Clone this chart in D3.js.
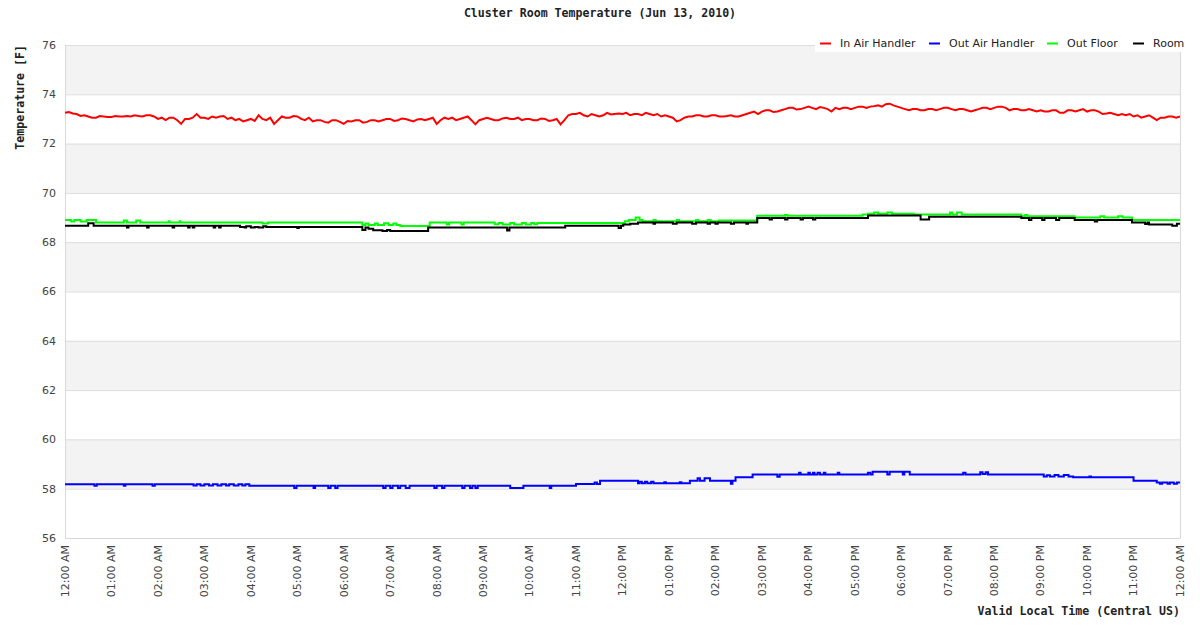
<!DOCTYPE html>
<html>
<head>
<meta charset="utf-8">
<script src="https://cdn.jsdelivr.net/npm/d3@7"></script>
<style>
  body { margin: 0; background: #fff; }
  svg { display: block; }
</style>
</head>
<body>
<svg id="chart"></svg>
<script>
// In Air Handler, one reading every 5 minutes from 12:00 AM to 12:00 AM
const inAirHandler = [
  73.25, 73.28, 73.22, 73.20, 73.12, 73.15, 73.10, 73.05, 73.05, 73.12, 73.10, 73.08,
  73.08, 73.12, 73.10, 73.10, 73.12, 73.10, 73.15, 73.12, 73.10, 73.15, 73.15, 73.10,
  73.00, 73.05, 72.95, 73.05, 73.05, 72.95, 72.80, 73.00, 73.00, 73.05, 73.20, 73.05,
  73.05, 73.00, 73.10, 73.05, 73.10, 73.12, 73.00, 73.05, 72.95, 73.00, 72.90, 72.95,
  73.00, 72.92, 73.15, 73.00, 72.95, 73.05, 72.80, 72.95, 73.10, 73.05, 73.05, 73.12,
  73.10, 73.00, 72.95, 73.05, 72.90, 72.95, 72.95, 72.88, 72.85, 72.95, 72.95, 72.88,
  72.80, 72.92, 72.90, 72.95, 72.95, 72.85, 72.88, 72.95, 72.95, 72.90, 72.95, 73.00,
  73.00, 72.92, 72.95, 73.02, 73.00, 72.95, 72.90, 72.98, 73.00, 72.95, 73.00, 73.05,
  72.80, 72.95, 73.05, 73.00, 73.05, 72.95, 73.00, 73.05, 73.10, 72.95, 72.78, 72.95,
  73.00, 73.05, 73.00, 72.95, 72.95, 73.02, 73.05, 73.00, 73.00, 73.05, 72.95, 73.00,
  73.00, 72.95, 72.95, 73.02, 73.00, 72.92, 72.95, 73.00, 72.78, 72.95, 73.15, 73.20,
  73.20, 73.25, 73.15, 73.10, 73.20, 73.15, 73.10, 73.15, 73.25, 73.18, 73.20, 73.22,
  73.20, 73.25, 73.15, 73.20, 73.20, 73.15, 73.25, 73.20, 73.15, 73.20, 73.10, 73.15,
  73.10, 73.05, 72.90, 72.95, 73.05, 73.10, 73.10, 73.15, 73.15, 73.10, 73.10, 73.15,
  73.15, 73.10, 73.10, 73.12, 73.15, 73.10, 73.10, 73.15, 73.20, 73.25, 73.30, 73.20,
  73.30, 73.35, 73.35, 73.28, 73.30, 73.35, 73.40, 73.45, 73.45, 73.38, 73.40, 73.45,
  73.50, 73.45, 73.40, 73.48, 73.45, 73.40, 73.30, 73.45, 73.40, 73.45, 73.45, 73.40,
  73.45, 73.50, 73.50, 73.45, 73.50, 73.52, 73.55, 73.50, 73.60, 73.62, 73.55, 73.50,
  73.45, 73.40, 73.35, 73.40, 73.40, 73.35, 73.35, 73.40, 73.40, 73.35, 73.40, 73.45,
  73.45, 73.40, 73.35, 73.40, 73.40, 73.35, 73.30, 73.35, 73.40, 73.45, 73.45, 73.40,
  73.45, 73.50, 73.50, 73.45, 73.35, 73.40, 73.40, 73.35, 73.35, 73.40, 73.35, 73.30,
  73.35, 73.30, 73.30, 73.35, 73.35, 73.25, 73.25, 73.35, 73.35, 73.30, 73.35, 73.40,
  73.30, 73.35, 73.35, 73.30, 73.20, 73.22, 73.25, 73.20, 73.15, 73.20, 73.15, 73.20,
  73.10, 73.15, 73.05, 73.10, 73.15, 73.05, 72.95, 73.05, 73.05, 73.10, 73.10, 73.05,
  73.10
];

// step series: [minute of day, value from that minute on]
const outAirHandler = [
  [0,58.18],[38,58.12],[41,58.18],[76,58.12],[78,58.18],[113,58.12],[116,58.18],
  [166,58.13],[170,58.18],[175,58.13],[180,58.18],[186,58.13],[191,58.18],[197,58.13],
  [202,58.18],[208,58.13],[212,58.18],[218,58.13],[224,58.18],[229,58.13],[233,58.18],
  [238,58.12],[296,58.03],[299,58.12],[321,58.03],[323,58.12],[340,58.03],[343,58.12],
  [349,58.03],[352,58.12],[411,58.03],[414,58.12],[420,58.03],[423,58.12],[430,58.03],
  [433,58.12],[440,58.03],[445,58.12],[477,58.03],[480,58.12],[487,58.03],[490,58.12],
  [513,58.03],[516,58.12],[523,58.03],[526,58.12],[530,58.03],[533,58.12],[575,58.03],
  [592,58.12],[626,58.03],[628,58.12],[660,58.19],[684,58.25],[687,58.19],[691,58.32],
  [740,58.22],[742,58.28],[745,58.22],[749,58.28],[752,58.22],[757,58.28],[760,58.22],
  [774,58.26],[776,58.22],[794,58.26],[796,58.22],[807,58.32],[817,58.42],[820,58.32],
  [826,58.42],[833,58.32],[860,58.2],[862,58.32],[866,58.46],[888,58.58],[920,58.48],
  [923,58.58],[948,58.65],[950,58.58],[960,58.65],[962,58.58],[966,58.65],[968,58.58],
  [972,58.65],[975,58.58],[980,58.65],[982,58.58],[998,58.65],[1000,58.58],[1037,58.65],
  [1040,58.58],[1043,58.69],[1062,58.58],[1065,58.69],[1082,58.58],[1084,58.69],
  [1091,58.58],[1160,58.65],[1163,58.58],[1182,58.67],[1185,58.6],[1189,58.67],
  [1192,58.58],[1264,58.5],[1268,58.55],[1272,58.5],[1278,58.56],[1283,58.5],[1290,58.56],
  [1296,58.5],[1302,58.46],[1323,58.5],[1325,58.46],[1380,58.32],[1410,58.25],[1414,58.2],
  [1417,58.25],[1424,58.2],[1427,58.25],[1432,58.2],[1436,58.25],[1440,58.25]
];

const outFloor = [
  [0,68.9],[8,68.84],[12,68.9],[20,68.84],[28,68.9],[40,68.8],[76,68.88],[80,68.8],
  [92,68.88],[97,68.8],[134,68.85],[135,68.8],[148,68.85],[149,68.8],[255,68.76],
  [262,68.8],[384,68.7],[388,68.76],[392,68.7],[400,68.76],[404,68.7],[412,68.77],
  [418,68.7],[424,68.76],[428,68.7],[433,68.66],[471,68.8],[493,68.72],[496,68.8],
  [512,68.72],[515,68.8],[555,68.73],[560,68.78],[565,68.72],[575,68.78],[580,68.72],
  [590,68.78],[595,68.72],[602,68.78],[606,68.73],[610,68.78],[723,68.85],[728,68.9],
  [737,69.0],[742,68.9],[746,68.85],[760,68.9],[763,68.85],[790,68.9],[793,68.85],
  [815,68.9],[818,68.85],[830,68.9],[834,68.85],[845,68.88],[894,69.07],[930,69.1],
  [933,69.07],[1030,69.12],[1037,69.15],[1045,69.2],[1050,69.15],[1062,69.2],[1068,69.15],
  [1096,69.12],[1143,69.2],[1146,69.12],[1152,69.2],[1158,69.12],[1235,69.05],[1240,69.1],
  [1243,69.05],[1304,69.0],[1337,69.05],[1342,69.0],[1360,69.05],[1366,69.0],[1378,68.9],
  [1440,68.9]
];

const room = [
  [0,68.67],[30,68.77],[37,68.67],[80,68.6],[82,68.67],[106,68.6],[108,68.67],[139,68.6],
  [141,68.67],[159,68.6],[161,68.67],[165,68.6],[167,68.67],[192,68.6],[194,68.67],
  [199,68.6],[201,68.67],[226,68.62],[232,68.6],[234,68.65],[240,68.6],[245,68.62],
  [250,68.6],[256,68.65],[260,68.62],[300,68.58],[302,68.62],[384,68.5],[388,68.6],
  [392,68.55],[398,68.48],[410,68.45],[416,68.5],[420,68.45],[469,68.6],[571,68.47],
  [574,68.6],[646,68.67],[715,68.58],[718,68.67],[721,68.72],[730,68.75],[740,68.8],
  [760,68.75],[762,68.8],[785,68.75],[790,68.8],[810,68.75],[815,68.8],[830,68.75],
  [833,68.8],[840,68.75],[843,68.8],[860,68.75],[864,68.8],[880,68.75],[882,68.8],
  [894,68.98],[910,68.92],[913,68.98],[930,68.92],[933,68.98],[950,68.92],[953,68.98],
  [966,68.92],[969,68.98],[1037,69.08],[1105,68.92],[1116,69.03],[1235,68.98],[1245,68.9],
  [1248,68.98],[1262,68.9],[1265,68.98],[1280,68.9],[1284,68.98],[1304,68.9],[1330,68.84],
  [1333,68.9],[1378,68.8],[1395,68.74],[1398,68.8],[1400,68.72],[1430,68.67],[1436,68.75],
  [1440,68.75]
];

const seriesNames = ["In Air Handler", "Out Air Handler", "Out Floor", "Room"];
const seriesColors = ["#ff0000", "#0000ff", "#00ff00", "#000000"];
const timeLabels = [
  "12:00 AM", "01:00 AM", "02:00 AM", "03:00 AM", "04:00 AM", "05:00 AM", "06:00 AM",
  "07:00 AM", "08:00 AM", "09:00 AM", "10:00 AM", "11:00 AM", "12:00 PM", "01:00 PM",
  "02:00 PM", "03:00 PM", "04:00 PM", "05:00 PM", "06:00 PM", "07:00 PM", "08:00 PM",
  "09:00 PM", "10:00 PM", "11:00 PM", "12:00 AM"
];
const tempTicks = [56, 58, 60, 62, 64, 66, 68, 70, 72, 74, 76];

const W = 1200, H = 628;
const margin = { top: 45, right: 20, bottom: 90, left: 65 };
const mono = "'DejaVu Sans Mono', monospace";
const sans = "'DejaVu Sans', sans-serif";

const svg = d3.select("#chart").attr("width", W).attr("height", H);

const x = d3.scaleLinear().domain([0, 1440]).range([margin.left, W - margin.right]);
const y = d3.scaleLinear().domain([56, 76]).range([H - margin.bottom, margin.top]);

// alternating bands
const bands = d3.pairs(tempTicks).filter((p, i) => i % 2 === 1);
svg.append("g").selectAll("rect").data(bands).join("rect")
  .attr("x", x(0)).attr("width", x(1440) - x(0))
  .attr("y", d => y(d[1])).attr("height", d => y(d[0]) - y(d[1]))
  .attr("fill", "#f3f3f3");

// grid lines
svg.append("g").selectAll("line").data(tempTicks).join("line")
  .attr("x1", x(0)).attr("x2", x(1440))
  .attr("y1", d => y(d) + 0.5).attr("y2", d => y(d) + 0.5)
  .attr("stroke", "#dddddd");

// frame: left, right, bottom
svg.append("path")
  .attr("d", `M${x(0) + 0.5},${y(76)}V${y(56) + 0.5}H${x(1440) + 0.5}V${y(76)}`)
  .attr("fill", "none").attr("stroke", "#d8d8d8");

// y axis labels
svg.append("g").selectAll("text").data(tempTicks).join("text")
  .attr("x", x(0) - 9).attr("y", d => y(d)).attr("dy", "0.35em")
  .attr("text-anchor", "end")
  .attr("font-family", sans).attr("font-size", 11).attr("fill", "#444")
  .text(d => d);

// x axis labels, rotated
svg.append("g").selectAll("text").data(timeLabels).join("text")
  .attr("transform", (d, i) => `translate(${x(i * 60)},${y(56) + 7}) rotate(-90)`)
  .attr("dy", "0.35em")
  .attr("text-anchor", "end")
  .attr("font-family", sans).attr("font-size", 11).attr("fill", "#444")
  .text(d => d);

const line = d3.line().x(d => x(d[0])).y(d => y(d[1]));
const stepLine = d3.line().curve(d3.curveStepAfter).x(d => x(d[0])).y(d => y(d[1]));

const redPoints = inAirHandler.map((v, i) => [i * 5, v]);

const plot = svg.append("g");
plot.append("path").datum(redPoints)
  .attr("d", line).attr("fill", "none")
  .attr("stroke", seriesColors[0]).attr("stroke-width", 2);

[outAirHandler, outFloor, room].forEach((s, i) => {
  plot.append("path").datum(s)
    .attr("d", stepLine).attr("fill", "none")
    .attr("stroke", seriesColors[i + 1]).attr("stroke-width", 2)
    .attr("stroke-linejoin", "miter");
});

// legend
const legend = svg.append("g");
legend.append("rect")
  .attr("x", 815).attr("y", 35).attr("width", 370).attr("height", 17)
  .attr("fill", "#fff");
const legendX = [820, 929, 1047, 1133];
seriesNames.forEach((name, i) => {
  legend.append("line")
    .attr("x1", legendX[i]).attr("x2", legendX[i] + 11)
    .attr("y1", 43.5).attr("y2", 43.5)
    .attr("stroke", seriesColors[i]).attr("stroke-width", 2);
  legend.append("text")
    .attr("x", legendX[i] + 20).attr("y", 43).attr("dy", "0.35em")
    .attr("font-family", sans).attr("font-size", 11).attr("fill", "#222")
    .text(name);
});

// titles
svg.append("text")
  .attr("x", 600).attr("y", 17).attr("text-anchor", "middle")
  .attr("font-family", mono).attr("font-size", 11.6).attr("font-weight", "bold").attr("fill", "#222")
  .text("Cluster Room Temperature (Jun 13, 2010)");

svg.append("text")
  .attr("transform", `translate(24,${margin.top}) rotate(-90)`)
  .attr("text-anchor", "end")
  .attr("font-family", mono).attr("font-size", 11.6).attr("font-weight", "bold").attr("fill", "#222")
  .text("Temperature [F]");

svg.append("text")
  .attr("x", x(1440)).attr("y", 615).attr("text-anchor", "end")
  .attr("font-family", mono).attr("font-size", 11.6).attr("font-weight", "bold").attr("fill", "#222")
  .text("Valid Local Time (Central US)");
</script>
</body>
</html>
